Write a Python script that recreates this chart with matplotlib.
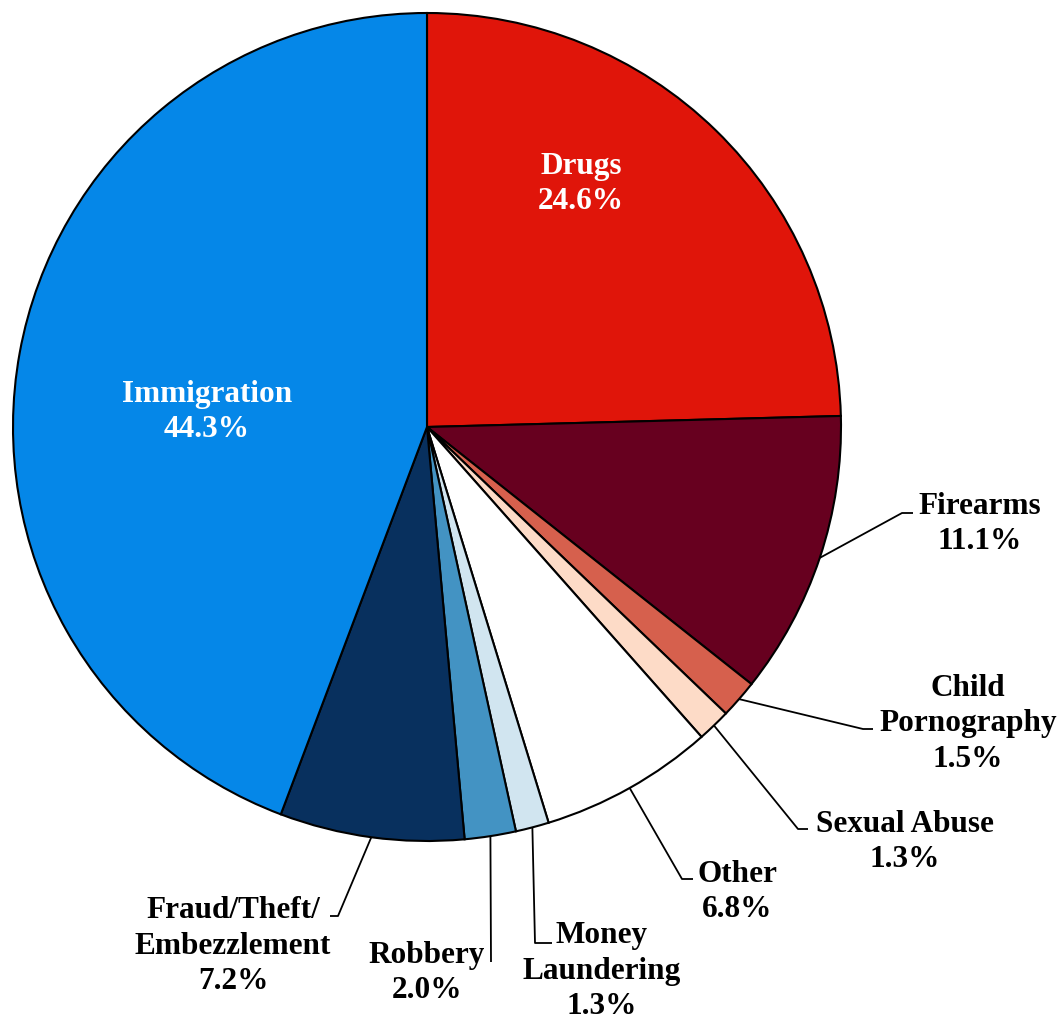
import matplotlib
matplotlib.use("Agg")
import matplotlib.pyplot as plt
import numpy as np

categories = ["Drugs", "Firearms", "Child\nPornography", "Sexual Abuse", "Other",
              "Money\nLaundering", "Robbery", "Fraud/Theft/\nEmbezzlement", "Immigration"]
values = [24.6, 11.1, 1.5, 1.3, 6.8, 1.3, 2.0, 7.2, 44.3]
colors = ["#E0150A", "#67001F", "#D6604D", "#FDDBC7", "#FFFFFF",
          "#D1E5F0", "#4393C3", "#08305E", "#0587E8"]

# layout (pixel coordinates, y from top)
W, H = 1064, 1022
cx, cy, R = 427, 427, 414
label_pos = [(581, 184), (980, 524), (968, 724), (905, 842), (737, 892),
             (602, 971), (427, 973), (233, 946), (207, 412)]
inside = [True, False, False, False, False, False, False, False, True]
elbows = [None, [(902, 513), (913, 513)], [(863, 729), (873, 729)],
          [(798, 829), (808, 829)], [(682, 879), (693, 879)],
          [(535, 943), (552, 943)], [(491, 962), (491, 962)],
          [(338, 916), (330, 916)], None]

plt.rcParams['font.family'] = ['Liberation Serif', 'DejaVu Serif']
fig = plt.figure(figsize=(W / 100, H / 100), dpi=100)
ax = fig.add_axes([0, 0, 1, 1])

def Y(y):
    return H - y

wedges, _ = ax.pie(values, colors=colors, startangle=90, counterclock=False,
                   center=(cx, Y(cy)), radius=R,
                   wedgeprops=dict(edgecolor="black", linewidth=1.5))
ax.set_xlim(0, W)
ax.set_ylim(0, H)
ax.set_aspect('equal')
ax.axis('off')

for w, cat, val, pos, ins, elb in zip(wedges, categories, values, label_pos, inside, elbows):
    txt = f"{cat}\n{val:.1f}%"
    ax.text(pos[0], Y(pos[1]), txt, ha='center', va='center', multialignment='center',
            fontsize=22.5, fontweight='bold', color='white' if ins else 'black',
            linespacing=1.28)
    if elb is not None:
        ang = np.deg2rad((w.theta1 + w.theta2) / 2)
        x0 = w.center[0] + R * np.cos(ang)
        y0 = w.center[1] + R * np.sin(ang)
        xs = [x0] + [p[0] for p in elb]
        ys = [y0] + [Y(p[1]) for p in elb]
        ax.plot(xs, ys, color='black', linewidth=1.3, solid_capstyle='butt')

fig.savefig("out.png", dpi=100)
